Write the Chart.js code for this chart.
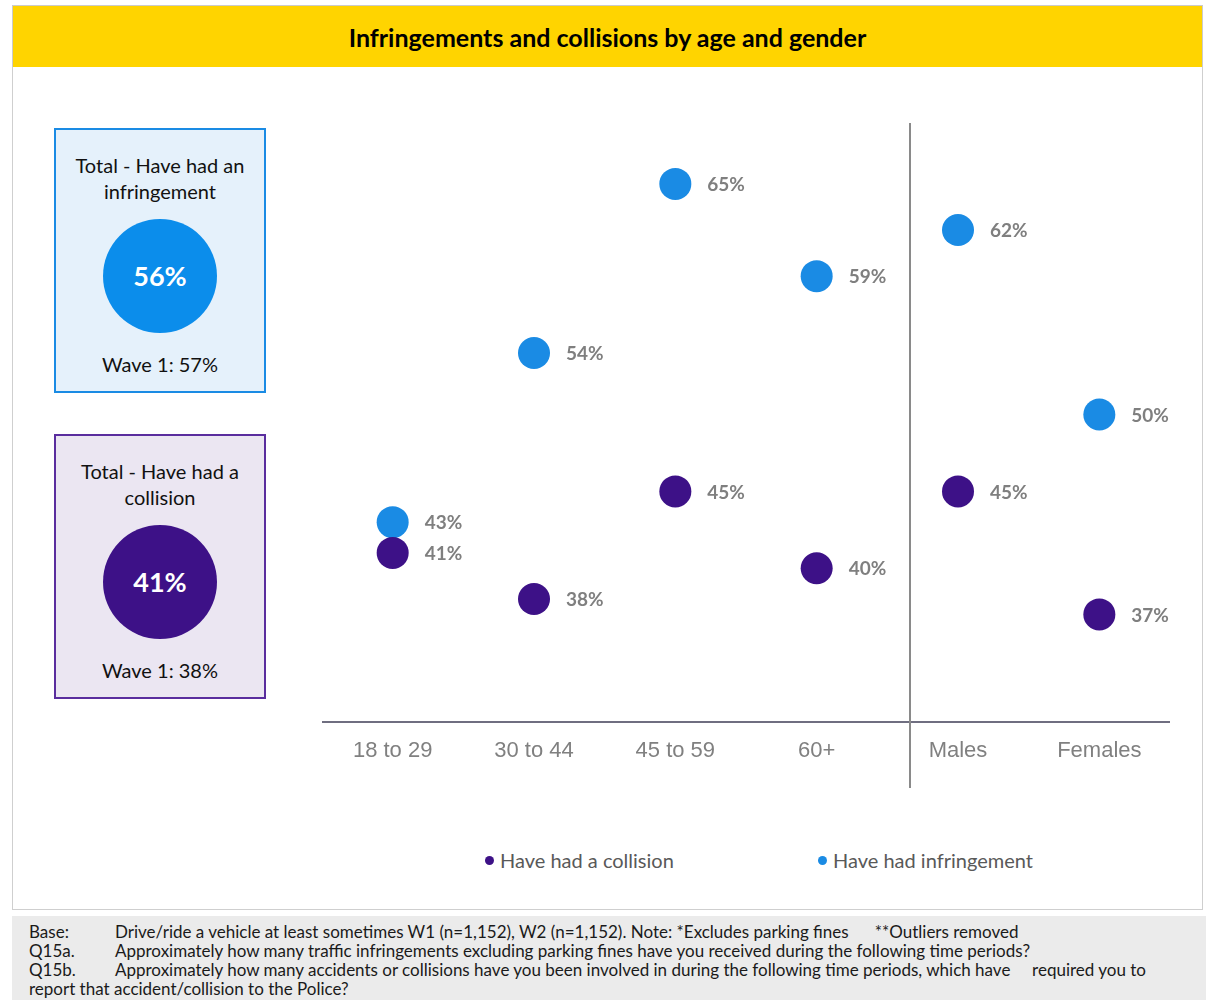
<!DOCTYPE html>
<html>
<head>
<meta charset="utf-8">
<script src="https://cdn.jsdelivr.net/npm/chart.js@4.4.1/dist/chart.umd.min.js"></script>
<style>
  html, body { margin: 0; padding: 0; background: #fff; }
  body { width: 1206px; height: 1000px; position: relative; font-family: Lato, "Noto Sans", sans-serif; overflow: hidden; }
  .header {
    position: absolute; left: 12px; top: 5px; width: 1189px; height: 61px;
    background: #ffd400; border: 1px solid #cbcbcb;
    text-align: center; font-weight: bold; font-size: 25px; line-height: 62px; color: #000;
  }
  .panel {
    position: absolute; left: 12px; top: 67px; width: 1189px; height: 842px;
    border: 1px solid #cfcfcf; border-top: none; background: #fff;
  }
  .kpi {
    position: absolute; left: 54px; width: 208px; box-sizing: content-box;
    text-align: center; color: #111; font-size: 20px; line-height: 26px;
  }
  .kpi .title { margin-top: 22px; height: 52px; }
  .kpi .dot {
    width: 114px; height: 114px; border-radius: 50%; margin: 15px auto 0;
    color: #fff; font-weight: bold; font-size: 27px; line-height: 114px;
  }
  .kpi .wave { margin-top: 18px; }
  #kpiInf { top: 128px; height: 261px; border: 2px solid #1a8be4; background: #e5f1fb; }
  #kpiInf .dot { background: #0b8deb; }
  #kpiCol { top: 434px; height: 261px; border: 2px solid #5a2d9e; background: #ebe6f2; }
  #kpiCol .dot { background: #3d1187; }
  .chart-box { position: absolute; left: 322px; top: 107px; width: 848px; height: 697px; }
  .legend { position: absolute; top: 847px; left: 0; width: 1206px; height: 26px; }
  .legend .item { position: absolute; font-size: 20px; color: #595959; line-height: 26px; white-space: nowrap; }
  .legend .swatch { display: inline-block; width: 9px; height: 9px; border-radius: 50%; margin-right: 6px; vertical-align: 3px; }
  .footer {
    position: absolute; left: 12px; top: 916px; width: 1194px; height: 84px;
    background: #ebebeb; color: #1a1a1a; font-size: 17px; line-height: 19px;
    box-sizing: border-box; padding: 6px 0 0 17px;
  }
  .footer .lbl { display: inline-block; width: 86px; }
</style>
</head>
<body>
<div class="header">Infringements and collisions by age and gender</div>
<div class="panel"></div>

<div class="kpi" id="kpiInf">
  <div class="title">Total - Have had an<br>infringement</div>
  <div class="dot" id="kpiInfValue"></div>
  <div class="wave" id="kpiInfWave"></div>
</div>
<div class="kpi" id="kpiCol">
  <div class="title">Total - Have had a<br>collision</div>
  <div class="dot" id="kpiColValue"></div>
  <div class="wave" id="kpiColWave"></div>
</div>

<div class="chart-box"><canvas id="chart"></canvas></div>
<div class="legend" id="legend"></div>

<div class="footer">
  <div><span class="lbl">Base:</span>Drive/ride a vehicle at least sometimes W1 (n=1,152), W2 (n=1,152). Note: *Excludes parking fines&nbsp;&nbsp;&nbsp;&nbsp;&nbsp;&nbsp;**Outliers removed</div>
  <div><span class="lbl">Q15a.</span>Approximately how many traffic infringements excluding parking fines have you received during the following time periods?</div>
  <div><span class="lbl">Q15b.</span>Approximately how many accidents or collisions have you been involved in during the following time periods, which have&nbsp;&nbsp;&nbsp;&nbsp;&nbsp;required you to<br>report that accident/collision to the Police?</div>
</div>

<script>
const groups = ["18 to 29", "30 to 44", "45 to 59", "60+", "Males", "Females"];
const collision = [41, 38, 45, 40, 45, 37];
const infringement = [43, 54, 65, 59, 62, 50];

const totalInfringement = 56, waveOneInfringement = 57;
const totalCollision = 41, waveOneCollision = 38;

// age groups on the left of the divider, gender on the right
const dividerAt = 3.66;

const PURPLE = "#3d1187";
const BLUE = "#1a8be4";

document.getElementById("kpiInfValue").textContent = `${totalInfringement}%`;
document.getElementById("kpiInfWave").textContent = `Wave 1: ${waveOneInfringement}%`;
document.getElementById("kpiColValue").textContent = `${totalCollision}%`;
document.getElementById("kpiColWave").textContent = `Wave 1: ${waveOneCollision}%`;

const valueLabels = {
  id: "valueLabels",
  afterDatasetsDraw(chart) {
    const { ctx } = chart;
    ctx.save();
    ctx.font = "bold 19px Lato";
    ctx.fillStyle = "#7f7f7f";
    ctx.textBaseline = "middle";
    chart.data.datasets.forEach((ds, i) => {
      chart.getDatasetMeta(i).data.forEach((pt, j) => {
        ctx.fillText(`${ds.data[j]}%`, pt.x + 32, pt.y + 1);
      });
    });
    ctx.restore();
  }
};

const divider = {
  id: "divider",
  beforeDatasetsDraw(chart) {
    const { ctx, chartArea } = chart;
    const x = Math.round(chart.scales.x.getPixelForValue(dividerAt));
    ctx.save();
    ctx.strokeStyle = "#8a8a8a";
    ctx.lineWidth = 2;
    ctx.beginPath();
    ctx.moveTo(x, chartArea.top + 16);
    ctx.lineTo(x, chartArea.bottom + 66);
    ctx.stroke();
    ctx.restore();
  }
};

const chart = new Chart(document.getElementById("chart"), {
  type: "line",
  data: {
    labels: groups,
    datasets: [
      { label: "Have had a collision", data: collision, backgroundColor: PURPLE, pointBackgroundColor: PURPLE },
      { label: "Have had infringement", data: infringement, backgroundColor: BLUE, pointBackgroundColor: BLUE }
    ].map(d => ({ ...d, showLine: false, pointRadius: 16, pointHoverRadius: 16, pointBorderWidth: 0, borderWidth: 0 }))
  },
  options: {
    responsive: true, maintainAspectRatio: false, animation: false,
    layout: { padding: 0, autoPadding: false },
    plugins: { legend: { display: false }, tooltip: { enabled: false } },
    scales: {
      x: {
        type: "category", offset: true,
        grid: { display: false, drawTicks: false },
        border: { display: true, color: "#6f6e80", width: 2 },
        ticks: { color: "#808080", padding: 16, font: { family: "Liberation Sans", size: 22 } },
        afterFit(scale) { scale.height = 82; }
      },
      y: { display: false, min: 30, max: 70 }
    }
  },
  plugins: [divider, valueLabels]
});

// legend from the datasets
const legend = document.getElementById("legend");
const legendLeft = [485, 818];
chart.data.datasets.forEach((ds, i) => {
  const item = document.createElement("div");
  item.className = "item";
  item.style.left = legendLeft[i] + "px";
  item.innerHTML = `<span class="swatch" style="background:${ds.pointBackgroundColor}"></span>${ds.label}`;
  legend.appendChild(item);
});
</script>
</body>
</html>
